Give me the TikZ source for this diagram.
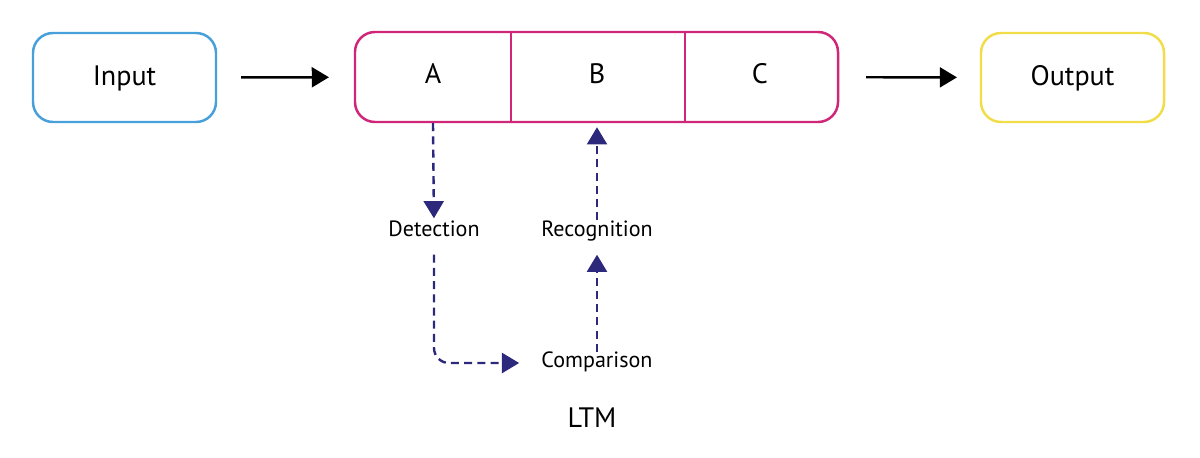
\documentclass[tikz,border=0pt]{standalone}
\usepackage{fontspec}
\setmainfont{PT Sans}
\definecolor{inblue}{RGB}{72,160,218}
\definecolor{ltmpink}{RGB}{207,38,122}
\definecolor{outyellow}{RGB}{240,221,72}
\definecolor{pathnavy}{RGB}{44,40,124}
\usetikzlibrary{arrows.meta,positioning,calc}

\begin{document}
\begin{tikzpicture}[x=0.25mm,y=-0.25mm,
  box/.style={draw,line width=0.62mm,rounded corners=5mm,minimum width=45.75mm,minimum height=22.25mm,
    font=\fontsize{20}{22}\selectfont,text height=0.7em,text depth=0pt},
  cell/.style={inner sep=0pt,font=\fontsize{20}{22}\selectfont,text height=0.7em,text depth=0pt},
  step label/.style={inner sep=0pt,font=\fontsize{15.7}{18}\selectfont,text height=0.7em,text depth=0pt},
  flow/.style={-{Triangle[length=4.3mm,width=5mm]},line width=0.6mm,black},
  dflow/.style={-{Triangle[length=4.3mm,width=5mm]},line width=0.6mm,pathnavy,dash pattern=on 2mm off 1.3mm}]
  \useasboundingbox (0,0) rectangle (1200,458);
  % Top row
  \node[box,draw=inblue] (input) at (124.5,77.5) {\raisebox{-0.8mm}{Input}};
  \node[box,draw=ltmpink,minimum width=120.75mm,minimum height=22.5mm] (mem) at (596.5,77) {};
  \node[box,draw=outyellow] (output) at (1072.5,77.5) {\raisebox{-0.8mm}{Output}};
  \coordinate (d1) at (511,77);
  \coordinate (d2) at (685,77);
  \draw[ltmpink,line width=0.62mm] (mem.north -| d1) -- (mem.south -| d1);
  \draw[ltmpink,line width=0.62mm] (mem.north -| d2) -- (mem.south -| d2);
  \node[cell] (a) at (433,79) {A};
  \node[cell] (b) at (597,79) {B};
  \node[cell] (c) at (760,79) {C};
  \draw[flow,shorten <=6mm,shorten >=6.2mm] (input) -- (mem);
  \draw[flow,shorten <=6.7mm,shorten >=5.7mm] (mem) -- (output);
  % Processing steps
  \node[step label] (det) at (434,231.5) {Detection};
  \node[step label] (rec) at (597,231.5) {Recognition};
  \node[step label] (cmp) at (597,363) {Comparison};
  \node[cell] (ltm) at (592,423) {LTM};
  \draw[dflow,shorten >=2mm] (a |- mem.south) -- (det.north);
  \draw[dflow,shorten <=1.5mm,shorten >=1mm] (rec.north) -- (b |- mem.south);
  \draw[dflow,rounded corners=3.75mm,shorten <=4.5mm,shorten >=5.5mm] (det.south) |- (cmp.west);
  \draw[dflow,shorten <=1.5mm,shorten >=4.5mm] (cmp.north) -- (rec.south);
\end{tikzpicture}
\end{document}
